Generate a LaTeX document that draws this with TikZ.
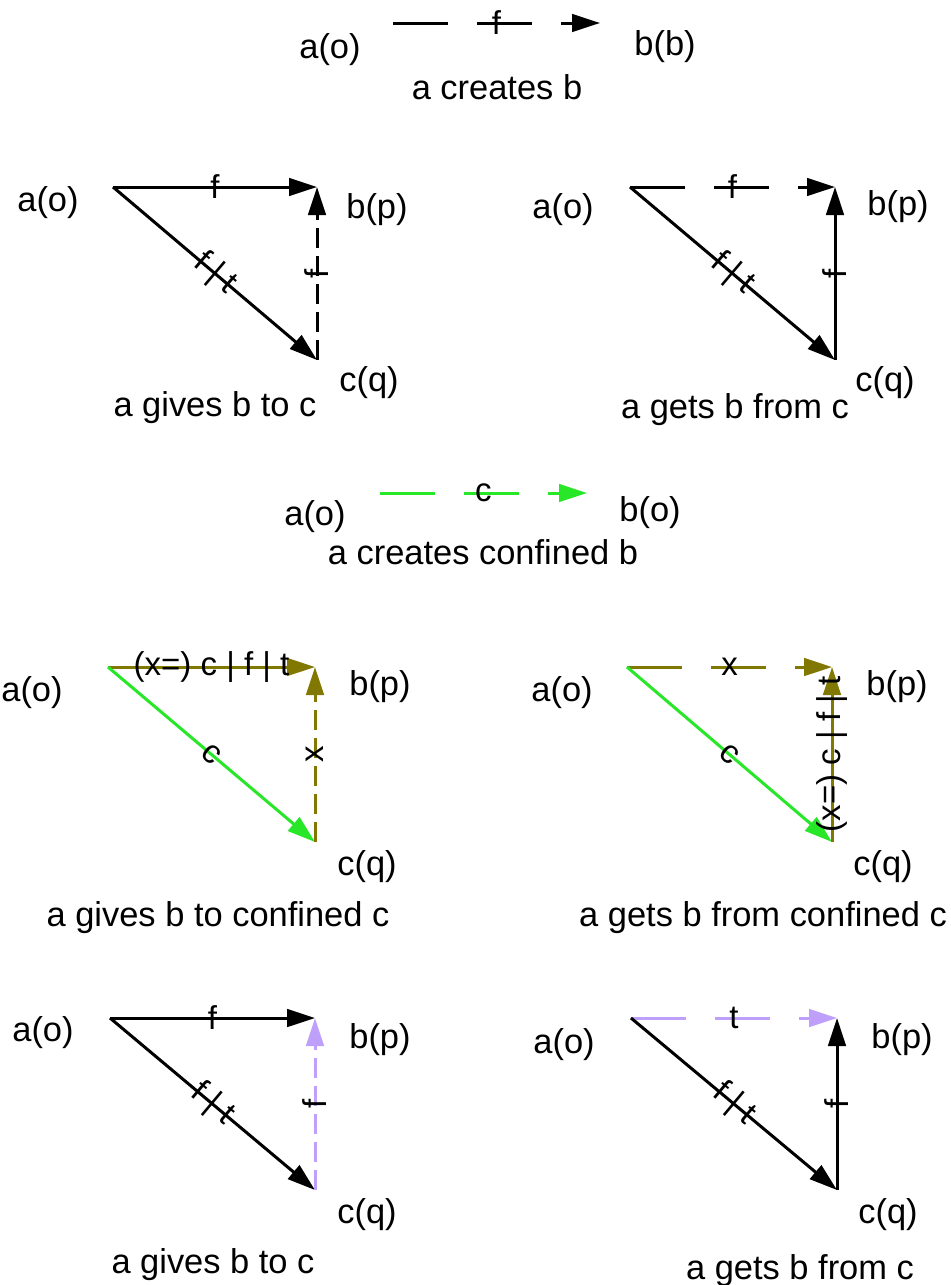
\documentclass[tikz,border=0pt]{standalone}
\usepackage{fontspec}
\setmainfont{Liberation Sans}
\usetikzlibrary{arrows.meta}
\definecolor{cGreen}{RGB}{40,230,40}
\definecolor{cOlive}{RGB}{128,120,0}
\definecolor{cLav}{RGB}{190,160,250}
\tikzset{
  >={Triangle[length=7mm,width=4.4mm]},
  lbl/.style ={font=\fontsize{24.5}{28}\selectfont,inner sep=0pt},
  elbl/.style={font=\fontsize{23.5}{26}\selectfont,inner sep=0pt,sloped},
  rel/.style ={->,line width=0.75mm,black},
  dashh/.style={dash pattern=on 13.75mm off 7.25mm},
  dashv/.style={dash pattern=on 5mm off 2mm},
}
\begin{document}
\begin{tikzpicture}[x=0.25mm,y=-0.25mm]
  \useasboundingbox (0,0) rectangle (951,1285);
  % a creates b
  \coordinate (a0) at (393,23);
  \coordinate (b0) at (600,23);
  \node[lbl] (la0) at (330,50) {a(o)};
  \node[lbl] (lb0) at (665,47) {b(b)};
  \node[lbl] (cap0) at (497,87) {a creates b};
  \draw[rel,dashh] (a0) -- node[elbl] {f} (b0);

  % a gives b to c
  \coordinate (a1) at (113,187);
  \coordinate (b1) at (317,187);
  \coordinate (c1) at (317,360);
  \node[lbl] (la1) at (48,203) {a(o)};
  \node[lbl] (lb1) at (377,210) {b(p)};
  \node[lbl] (lc1) at (369,383) {c(q)};
  \node[lbl] (cap1) at (215,408) {a gives b to c};
  \draw[rel] (a1) -- node[elbl] {f} (b1);
  \draw[rel] (a1) -- node[elbl] {f | t} (c1);
  \draw[rel,dashv] (c1) -- node[elbl] {f} (b1);

  % a gets b from c
  \coordinate (a2) at (630,187);
  \coordinate (b2) at (835,187);
  \coordinate (c2) at (835,360);
  \node[lbl] (la2) at (563,210) {a(o)};
  \node[lbl] (lb2) at (898,207) {b(p)};
  \node[lbl] (lc2) at (885,383) {c(q)};
  \node[lbl] (cap2) at (735,410) {a gets b from c};
  \draw[rel,dashh] (a2) -- node[elbl] {f} (b2);
  \draw[rel] (a2) -- node[elbl] {f | t} (c2);
  \draw[rel] (c2) -- node[elbl] {f} (b2);

  % a creates confined b
  \coordinate (a7) at (380,493);
  \coordinate (b7) at (587,493);
  \node[lbl] (la7) at (315,517) {a(o)};
  \node[lbl] (lb7) at (650,513) {b(o)};
  \node[lbl] (cap7) at (483,552) {a creates confined b};
  \draw[rel,cGreen,dashh] (a7) -- node[elbl,black] {c} (b7);

  % a gives b to confined c
  \coordinate (a3) at (108,667);
  \coordinate (b3) at (315,667);
  \coordinate (c3) at (315,842);
  \node[lbl] (la3) at (32,693) {a(o)};
  \node[lbl] (lb3) at (380,687) {b(p)};
  \node[lbl] (lc3) at (367,867) {c(q)};
  \node[lbl] (cap3) at (218,918) {a gives b to confined c};
  \draw[rel,cOlive] (a3) -- node[elbl,black] {(x=) c | f | t} (b3);
  \draw[rel,cGreen] (a3) -- node[elbl,black] {c} (c3);
  \draw[rel,cOlive,dashv] (c3) -- node[elbl,black] {x} (b3);

  % a gets b from confined c
  \coordinate (a4) at (627,667);
  \coordinate (b4) at (832,667);
  \coordinate (c4) at (832,842);
  \node[lbl] (la4) at (562,693) {a(o)};
  \node[lbl] (lb4) at (897,687) {b(p)};
  \node[lbl] (lc4) at (883,867) {c(q)};
  \node[lbl] (cap4) at (763,918) {a gets b from confined c};
  \draw[rel,cOlive,dashh] (a4) -- node[elbl,black] {x} (b4);
  \draw[rel,cGreen] (a4) -- node[elbl,black] {c} (c4);
  \draw[rel,cOlive] (c4) -- node[elbl,black] {(x=) c | f | t} (b4);

  % a gives b to c (t)
  \coordinate (a5) at (110,1018);
  \coordinate (b5) at (315,1018);
  \coordinate (c5) at (315,1190);
  \node[lbl] (la5) at (43,1033) {a(o)};
  \node[lbl] (lb5) at (380,1040) {b(p)};
  \node[lbl] (lc5) at (367,1215) {c(q)};
  \node[lbl] (cap5) at (213,1265) {a gives b to c};
  \draw[rel] (a5) -- node[elbl] {f} (b5);
  \draw[rel] (a5) -- node[elbl] {f | t} (c5);
  \draw[rel,cLav,dashv] (c5) -- node[elbl,black] {f} (b5);

  % a gets b from c (t)
  \coordinate (a6) at (631,1018);
  \coordinate (b6) at (837,1018);
  \coordinate (c6) at (837,1190);
  \node[lbl] (la6) at (564,1045) {a(o)};
  \node[lbl] (lb6) at (902,1040) {b(p)};
  \node[lbl] (lc6) at (888,1215) {c(q)};
  \node[lbl] (cap6) at (800,1271) {a gets b from c};
  \draw[rel,cLav,dashh] (a6) -- node[elbl,black] {t} (b6);
  \draw[rel] (a6) -- node[elbl] {f | t} (c6);
  \draw[rel] (c6) -- node[elbl] {f} (b6);
\end{tikzpicture}
\end{document}
